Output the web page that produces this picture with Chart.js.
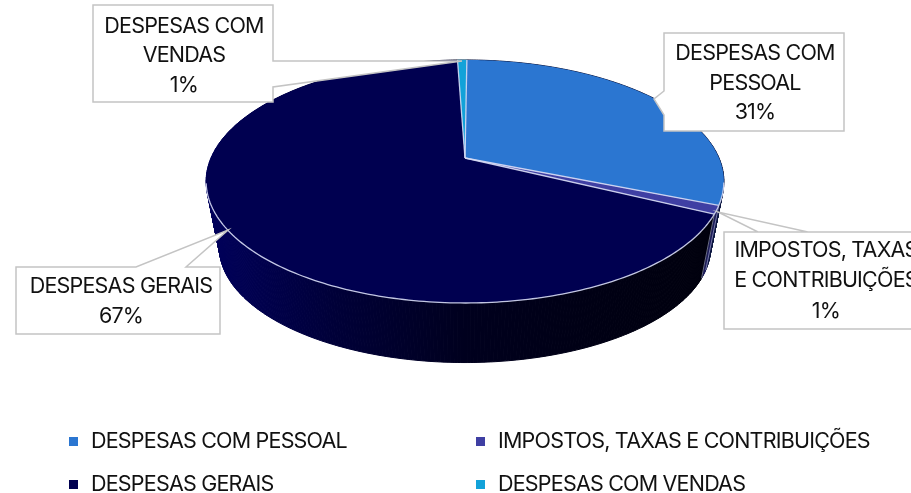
<!DOCTYPE html>
<html>
    <head>
        <meta charset="utf-8">
        <title>Despesas</title>
        <style>
            html, body { margin: 0; padding: 0; background: #fff; }
            #chartWrapper { width: 911px; height: 493px; overflow: hidden; }
        </style>
        <script src="https://cdn.jsdelivr.net/npm/chart.js"></script>
    </head>
    <body>
        <div id="chartWrapper"><canvas id="pieChart" width="911" height="493"></canvas></div>
        <script>
            const categories = ["DESPESAS COM PESSOAL", "IMPOSTOS, TAXAS E CONTRIBUIÇÕES", "DESPESAS GERAIS", "DESPESAS COM VENDAS"];
            const values = [31, 1.1, 67.2, 0.7];
            const topColors = ["#2b76d1", "#3f3fa3", "#000050", "#12a2d9"];
            const labelLines = [["DESPESAS COM", "PESSOAL"], ["IMPOSTOS, TAXAS", "E CONTRIBUIÇÕES"], ["DESPESAS GERAIS"], ["DESPESAS COM", "VENDAS"]];

            const FONT = '21.5px "Inter"';
            const SPACING = "-0.8px";
            const RIM = "rgba(215,220,245,0.9)";

            // the pie is tilted, so the circle goes through a perspective map
            const K = -0.193;
            const project = (angle, plane) => {
                const x = Math.cos(angle), y = Math.sin(angle), w = 1 + K * y;
                return [465 + plane.a * x / w, plane.c + plane.b * y / w];
            };
            const topPlane = {a: 254, b: 117, c: 158};
            const lowPlane = {a: 241, b: 111, c: 225};

            // box: x, y, w, h; tail: three points; text centre and line positions
            const callouts = [
                {box: [664, 33, 180, 98], tail: [[664, 91], [654, 99], [664, 115]], cx: 755, ys: [54, 84, 113]},
                {box: [724, 232, 230, 97], tail: [[808, 232], [718, 212], [758, 232]], cx: 826, ys: [251, 281, 312]},
                {box: [16, 267, 204, 67], tail: [[136, 267], [228, 230], [186, 267]], cx: 121, ys: [287, 317]},
                {box: [93, 5, 180, 97], tail: [[273, 61], [462, 61], [273, 87]], cx: 184, ys: [27, 56, 86]}
            ];
            const legendSpots = [[69, 91, 442], [476, 498, 442], [69, 91, 485], [476, 498, 485]];

            function tracePath(ctx, points) {
                ctx.beginPath();
                points.forEach((p, i) => i ? ctx.lineTo(p[0], p[1]) : ctx.moveTo(p[0], p[1]));
            }

            function wallGradient(ctx, stops) {
                const g = ctx.createLinearGradient(205, 0, 725, 0);
                stops.forEach((c, n) => g.addColorStop(n / (stops.length - 1), c));
                return g;
            }

            function arcPoints(el, plane, perRadian) {
                const steps = Math.max(2, Math.ceil((el.endAngle - el.startAngle) * perRadian));
                const pts = [];
                for (let s = 0; s <= steps; s++) {
                    pts.push(el.startAngle + (el.endAngle - el.startAngle) * s / steps);
                }
                return pts;
            }

            function drawWalls(ctx, arcs) {
                const fills = [
                    wallGradient(ctx, ["#12204a", "#0c1640"]),
                    wallGradient(ctx, ["#1c1c5a", "#1c1c5a"]),
                    wallGradient(ctx, ["#00005c", "#000038", "#00001e", "#000014", "#00000c"]),
                    wallGradient(ctx, ["#0a4060", "#0a4060"])
                ];
                let strips = [];
                arcs.forEach((el, i) => {
                    const angles = arcPoints(el, topPlane, 90);
                    for (let s = 0; s < angles.length - 1; s++) {
                        strips.push({i, a0: angles[s], a1: angles[s + 1], order: Math.sin((angles[s] + angles[s + 1]) / 2)});
                    }
                });
                strips.sort((p, q) => p.order - q.order);
                strips.forEach(st => {
                    tracePath(ctx, [project(st.a0, topPlane), project(st.a1, topPlane), project(st.a1, lowPlane), project(st.a0, lowPlane)]);
                    ctx.closePath();
                    ctx.fillStyle = fills[st.i];
                    ctx.strokeStyle = fills[st.i];
                    ctx.lineWidth = 1;
                    ctx.fill();
                    ctx.stroke();
                });
                // edges of the tax slice on the wall
                arcs.slice(0, 2).forEach(el => {
                    tracePath(ctx, [project(el.endAngle, topPlane), project(el.endAngle, lowPlane)]);
                    ctx.strokeStyle = "rgba(190,195,230,0.55)";
                    ctx.lineWidth = 1;
                    ctx.stroke();
                });
            }

            function drawTop(ctx, arcs) {
                const tip = [465, topPlane.c];
                arcs.forEach((el, i) => {
                    tracePath(ctx, [tip, ...arcPoints(el, topPlane, 60).map(a => project(a, topPlane))]);
                    ctx.closePath();
                    ctx.fillStyle = topColors[i];
                    ctx.fill();
                });
                ctx.strokeStyle = RIM;
                ctx.lineWidth = 1.3;
                arcs.forEach(el => {
                    // spokes between slices
                    tracePath(ctx, [tip, project(el.startAngle, topPlane)]);
                    ctx.stroke();
                    // rim only shows on the front of the pie
                    const front = arcPoints(el, topPlane, 60).filter(a => Math.sin(a) > 0.2);
                    if (front.length > 1) {
                        tracePath(ctx, front.map(a => project(a, topPlane)));
                        ctx.stroke();
                    }
                });
            }

            function drawCallouts(ctx) {
                const total = values.reduce((s, v) => s + v, 0);
                ctx.font = FONT;
                ctx.letterSpacing = SPACING;
                ctx.textAlign = "center";
                ctx.textBaseline = "middle";
                callouts.forEach((c, i) => {
                    const [x, y, w, h] = c.box;
                    let outline;
                    if (c.tail[0][1] === y) {
                        outline = [[x, y], ...c.tail, [x + w, y], [x + w, y + h], [x, y + h]];
                    } else if (c.tail[0][0] === x) {
                        outline = [[x, y], [x + w, y], [x + w, y + h], [x, y + h], ...c.tail.slice().reverse()];
                    } else {
                        outline = [[x, y], [x + w, y], ...c.tail, [x + w, y + h], [x, y + h]];
                    }
                    tracePath(ctx, outline);
                    ctx.closePath();
                    ctx.fillStyle = "#fff";
                    ctx.fill();
                    ctx.strokeStyle = "#c4c4c4";
                    ctx.lineWidth = 1.5;
                    ctx.stroke();
                    const lines = [...labelLines[i], Math.round(values[i] / total * 100) + "%"];
                    ctx.fillStyle = "#111";
                    lines.forEach((text, n) => ctx.fillText(text, c.cx, c.ys[n]));
                });
            }

            function drawLegend(ctx) {
                ctx.font = FONT;
                ctx.letterSpacing = SPACING;
                ctx.textAlign = "left";
                ctx.textBaseline = "middle";
                categories.forEach((name, i) => {
                    const [bx, tx, y] = legendSpots[i];
                    ctx.fillStyle = topColors[i];
                    ctx.fillRect(bx, y - 5, 9, 9);
                    ctx.fillStyle = "#111";
                    ctx.fillText(name, tx, y);
                });
            }

            const tiltedPie = {
                id: "tiltedPie",
                beforeDatasetDraw(chart, args) {
                    const ctx = chart.ctx;
                    const arcs = chart.getDatasetMeta(args.index).data;
                    ctx.save();
                    drawWalls(ctx, arcs);
                    drawTop(ctx, arcs);
                    drawCallouts(ctx);
                    drawLegend(ctx);
                    ctx.restore();
                    return false;
                }
            };

            new Chart(document.getElementById("pieChart"), {
                type: "pie",
                data: {
                    labels: categories,
                    datasets: [{data: values, backgroundColor: topColors}]
                },
                options: {
                    responsive: false,
                    animation: false,
                    rotation: 0.5,
                    plugins: {legend: {display: false}, tooltip: {enabled: false}}
                },
                plugins: [tiltedPie]
            });
        </script>
    </body>
</html>
